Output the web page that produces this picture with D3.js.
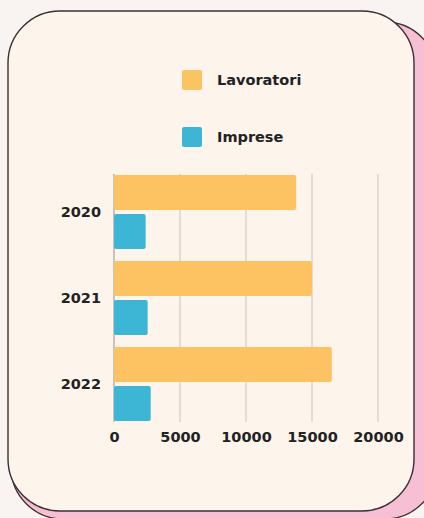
<!DOCTYPE html>
<html>
<head>
<meta charset="utf-8">
<script src="https://cdn.jsdelivr.net/npm/d3@7"></script>
<style>
  html, body { margin: 0; padding: 0; background: #f9f4f1; }
  svg { display: block; }
  text { font-family: "DejaVu Sans", sans-serif; font-weight: bold; fill: #222; }
</style>
</head>
<body>
<svg id="chart" width="424" height="518"></svg>
<script>
const years = ["2020", "2021", "2022"];
const seriesNames = ["Lavoratori", "Imprese"];
const lavoratori = [13800, 15000, 16500];
const imprese = [2400, 2550, 2780];
const xTicks = [0, 5000, 10000, 15000, 20000];
const seriesColors = ["#fdc262", "#3db6d6"];

const seriesValues = [lavoratori, imprese];
const svg = d3.select("#chart");

// background
svg.append("rect").attr("width", 424).attr("height", 518).attr("fill", "#f9f4f1");
// back (pink) card
svg.append("rect").attr("x", 11).attr("y", 22).attr("width", 426).attr("height", 497)
  .attr("rx", 52).attr("fill", "#f6bfd4").attr("stroke", "#3a3032").attr("stroke-width", 1.3);
// front card
svg.append("rect").attr("x", 8).attr("y", 11).attr("width", 406).attr("height", 500)
  .attr("rx", 52).attr("fill", "#fdf4ec").attr("stroke", "#3a3032").attr("stroke-width", 1.4);

const x = d3.scaleLinear().domain([0, 20000]).range([114, 378]);
const y0 = d3.scaleBand().domain(years).range([169, 427]).paddingInner(0.14).paddingOuter(0.07);
const y1 = d3.scaleBand().domain(seriesNames).range([0, y0.bandwidth()]).paddingInner(0.1);

const plotTop = 174, plotBottom = 422;

// gridlines
svg.append("g").selectAll("line").data(xTicks).join("line")
  .attr("x1", d => x(d)).attr("x2", d => x(d))
  .attr("y1", plotTop).attr("y2", plotBottom)
  .attr("stroke", d => d === 0 ? "#a9a29e" : "#d3ccc7").attr("stroke-width", 1.2);

// bars
const groups = svg.append("g").selectAll("g").data(years).join("g")
  .attr("transform", d => `translate(0,${y0(d)})`);
groups.selectAll("rect")
  .data((d, i) => seriesNames.map((s, j) => ({ s, j, v: seriesValues[j][i] })))
  .join("rect")
  .attr("x", x(0))
  .attr("y", d => y1(d.s))
  .attr("width", d => x(d.v) - x(0))
  .attr("height", y1.bandwidth())
  .attr("rx", 2)
  .attr("fill", d => seriesColors[d.j]);

// y labels
const yAxis = d3.axisLeft(y0).tickSize(0).tickPadding(13);
const yg = svg.append("g").attr("transform", `translate(${x(0)},0)`).call(yAxis);
yg.select(".domain").remove();
yg.selectAll("text").style("font-size", "14.5px").style("font-family", "DejaVu Sans, sans-serif")
  .style("font-weight", "bold").attr("fill", "#222");

// x labels
const xAxis = d3.axisBottom(x).tickValues(xTicks).tickSize(0).tickPadding(10).tickFormat(d3.format("d"));
const xg = svg.append("g").attr("transform", `translate(0,${plotBottom})`).call(xAxis);
xg.select(".domain").remove();
xg.selectAll("text").style("font-size", "14.5px").style("font-family", "DejaVu Sans, sans-serif")
  .style("font-weight", "bold").attr("fill", "#222");

// legend
const legend = svg.append("g").selectAll("g").data(seriesNames).join("g")
  .attr("transform", (d, i) => `translate(182,${70 + i * 57})`);
legend.append("rect").attr("width", 20).attr("height", 20).attr("rx", 2)
  .attr("fill", (d, i) => seriesColors[i]);
legend.append("text").attr("x", 35).attr("y", 10).attr("dy", "0.35em")
  .style("font-size", "14.5px").text(d => d);
</script>
</body>
</html>
